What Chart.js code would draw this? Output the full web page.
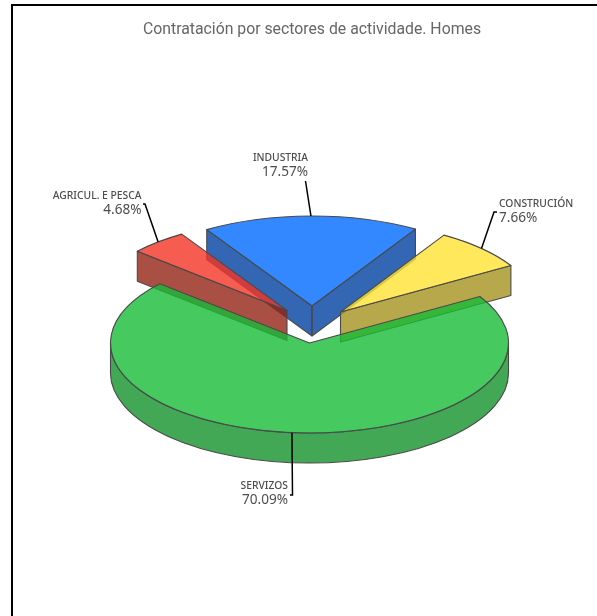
<!DOCTYPE html>
<html>
<head>
<meta charset="utf-8">
<style>
html,body{margin:0;padding:0;background:#fff;width:597px;height:616px;overflow:hidden}
#frame{position:absolute;left:11px;top:4px;width:700px;height:800px;border-left:2.5px solid #000;border-top:2px solid #000;box-sizing:border-box}
#c{position:absolute;left:0;top:0}
</style>
</head>
<body>
<div id="frame"></div>
<canvas id="c" width="597" height="616"></canvas>
<script src="https://cdn.jsdelivr.net/npm/chart.js@4"></script>
<script>
const titleText = "Contratación por sectores de actividade. Homes";
const categories = ["SERVIZOS", "AGRICUL. E PESCA", "INDUSTRIA", "CONSTRUCIÓN"];
const shares = [70.09, 4.68, 17.57, 7.66];

const topColors  = ["rgba(24,188,54,0.8)", "rgba(245,51,36,0.8)", "rgba(0,106,255,0.8)", "rgba(255,226,51,0.8)"];
const sideColors = ["rgba(20,146,42,0.8)", "rgba(147,35,21,0.8)", "rgba(0,64,160,0.8)", "rgba(165,146,31,0.8)"];
const drawOrder = [2, 3, 1, 0];
const CX = 309.5, CY = 343, RX = 199, RY = 90, DEPTH = 30;
const sliceShift = [[0,0],[-22.5,-32.5],[2.5,-37],[31,-31]];
// leader line: bend point, elbow end; label: x, align, y of name, y of percent
const leaders = [
  {elbow:[292.5,495], end:[290,495], x:288, align:"right", y1:486.5, y2:500},
  {elbow:[145,204],   end:[143,204], x:141.5, align:"right", y1:196, y2:210},
  {elbow:[305.5,181], end:[305.5,181], x:308, align:"right", y1:158.5, y2:172},
  {elbow:[494,212],   end:[497,212], x:499, align:"left",  y1:204.5, y2:218}
];

const pie3d = {
  id: "pie3d",
  beforeDatasetsDraw(chart) {
    const ctx = chart.ctx;
    const arcs = chart.getDatasetMeta(0).data;
    const line = "#4a4a4a";
    drawOrder.forEach(i => {
      const arc = arcs[i];
      const p = arc.getProps(["x","y","startAngle","endAngle","outerRadius"], true);
      const x0 = CX + sliceShift[i][0], y0 = CY + sliceShift[i][1];
      const pt = a => [x0 + RX*Math.cos(a), y0 + RY*Math.sin(a)];
      const a = p.startAngle, b = p.endAngle;
      ctx.save();
      ctx.lineWidth = 1.1; ctx.strokeStyle = line; ctx.lineJoin = "round";
      ctx.fillStyle = sideColors[i];
      const quad = ang => {
        const q = pt(ang);
        ctx.beginPath();
        ctx.moveTo(x0,y0); ctx.lineTo(q[0],q[1]); ctx.lineTo(q[0],q[1]+DEPTH); ctx.lineTo(x0,y0+DEPTH); ctx.closePath();
        ctx.fill(); ctx.stroke();
      };
      if (Math.cos(b) > 0) quad(b);
      if (Math.cos(a) < 0) quad(a);
      [[0,Math.PI],[2*Math.PI,3*Math.PI]].forEach(([lo,hi]) => {
        const s = Math.max(a,lo), e = Math.min(b,hi);
        if (e > s) {
          ctx.beginPath();
          ctx.ellipse(x0,y0,RX,RY,0,s,e);
          ctx.ellipse(x0,y0+DEPTH,RX,RY,0,e,s,true);
          ctx.closePath();
          ctx.fill(); ctx.stroke();
        }
      });
      // the top of the slice is the library's own arc element, squashed
      ctx.save();
      ctx.translate(x0,y0);
      ctx.scale(RX/p.outerRadius, RY/p.outerRadius);
      ctx.translate(-p.x,-p.y);
      arc.draw(ctx);
      ctx.restore();
      ctx.beginPath();
      ctx.moveTo(x0,y0);
      ctx.ellipse(x0,y0,RX,RY,0,a,b);
      ctx.closePath();
      ctx.stroke();
      ctx.restore();
    });
    // leader lines and labels
    arcs.forEach((arc,i) => {
      const p = arc.getProps(["startAngle","endAngle"], true);
      const mid = (p.startAngle+p.endAngle)/2;
      const ax = CX + sliceShift[i][0] + RX*Math.cos(mid);
      const ay = CY + sliceShift[i][1] + RY*Math.sin(mid);
      const L = leaders[i];
      ctx.save();
      ctx.strokeStyle = "#000"; ctx.lineWidth = 1.5;
      ctx.beginPath();
      ctx.moveTo(ax,ay); ctx.lineTo(L.elbow[0],L.elbow[1]); ctx.lineTo(L.end[0],L.end[1]);
      ctx.stroke();
      ctx.fillStyle = "#4d4d4d";
      ctx.textAlign = L.align; ctx.textBaseline = "middle";
      ctx.font = "500 10.3px 'Noto Sans'";
      ctx.fillText(categories[i], L.x, L.y1);
      ctx.font = "13.6px 'Noto Sans'";
      ctx.fillText(shares[i].toFixed(2)+"%", L.x, L.y2);
      ctx.restore();
    });
    return false;
  }
};

new Chart(document.getElementById("c"), {
  type: "pie",
  data: { labels: categories, datasets: [{ data: shares, backgroundColor: topColors, borderWidth: 0 }] },
  options: {
    responsive: false,
    animation: false,
    rotation: 58.9,
    layout: { padding: { left: 113, right: 86, top: 0, bottom: 0 } },
    plugins: {
      legend: { display: false },
      tooltip: { enabled: false },
      title: { display: true, text: titleText, color: "#666",
               font: { family: "Roboto", size: 15.8, weight: "normal" },
               padding: { top: 21, bottom: 10 } }
    }
  },
  plugins: [pie3d]
});
</script>
</body>
</html>
